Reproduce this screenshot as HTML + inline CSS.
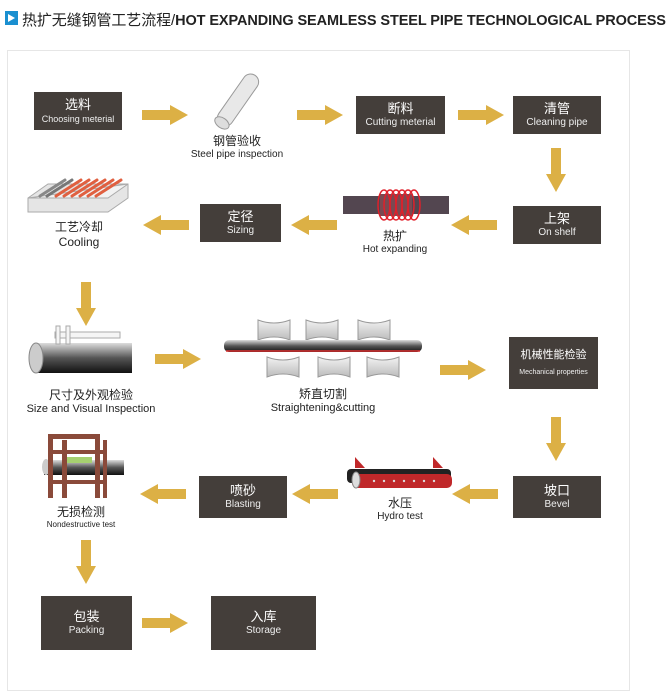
<!DOCTYPE html>
<html><head><meta charset="utf-8"><style>
*{margin:0;padding:0;box-sizing:border-box}
body{width:670px;height:700px;background:#fff;position:relative;overflow:hidden;font-family:"Liberation Sans","Noto Sans CJK SC",sans-serif;color:#222}
.box{position:absolute;background:#443e3a;color:#fff;text-align:center;display:flex;flex-direction:column;justify-content:center;align-items:center;line-height:1.25}
.box .c{font-size:13px}
.box .e{font-size:10px;color:#eee}
.lbl{position:absolute;text-align:center;line-height:1.25;transform:translateX(-50%);white-space:nowrap}
svg{position:absolute;left:0;top:0}
</style></head><body>
<div style="position:absolute;left:5px;top:11px;width:13px;height:14px;background:#1a8fd0"></div>
<div style="position:absolute;left:8px;top:14px;width:0;height:0;border-left:7px solid #fff;border-top:4px solid transparent;border-bottom:4px solid transparent"></div>
<div style="position:absolute;left:22px;top:9px;font-size:15px;white-space:nowrap;letter-spacing:-0.1px">热扩无缝钢管工艺流程/<b style="font-size:14.5px;letter-spacing:-0.1px">HOT EXPANDING SEAMLESS STEEL PIPE TECHNOLOGICAL PROCESS</b></div>
<div style="position:absolute;left:7px;top:50px;width:623px;height:641px;border:1px solid #e6e6e6"></div>

<svg width="670" height="700">
<defs>
<linearGradient id="pg" x1="0" y1="0" x2="0" y2="1"><stop offset="0" stop-color="#ddd"/><stop offset=".5" stop-color="#555"/><stop offset="1" stop-color="#111"/></linearGradient>
<linearGradient id="rg" x1="0" y1="0" x2="0" y2="1"><stop offset="0" stop-color="#f2f2f2"/><stop offset="1" stop-color="#bbb"/></linearGradient>
<g id="ar"><rect x="0" y="-5" width="30" height="10" fill="#dcb045"/><polygon points="28,-10 46,0 28,10" fill="#dcb045"/></g>
<g id="ad"><rect x="-5" y="0" width="10" height="28" fill="#dcb045"/><polygon points="-10,26 0,44 10,26" fill="#dcb045"/></g>
</defs>
<use href="#ar" x="142" y="115"/>
<use href="#ar" x="297" y="115"/>
<use href="#ar" x="458" y="115"/>
<use href="#ad" x="556" y="148"/>
<use href="#ar" transform="translate(497,225) scale(-1,1)"/>
<use href="#ar" transform="translate(337,225) scale(-1,1)"/>
<use href="#ar" transform="translate(189,225) scale(-1,1)"/>
<use href="#ad" x="86" y="282"/>
<use href="#ar" x="155" y="359"/>
<use href="#ar" x="440" y="370"/>
<use href="#ad" x="556" y="417"/>
<use href="#ar" transform="translate(498,494) scale(-1,1)"/>
<use href="#ar" transform="translate(338,494) scale(-1,1)"/>
<use href="#ar" transform="translate(186,494) scale(-1,1)"/>
<use href="#ad" x="86" y="540"/>
<use href="#ar" x="142" y="623"/>

<g transform="translate(238,100) rotate(-55)"><rect x="-30" y="-8" width="60" height="16" rx="8" fill="#e8e8e8" stroke="#999"/><ellipse cx="-28" cy="0" rx="5" ry="8" fill="#ddd" stroke="#999"/></g>
<rect x="343" y="196" width="106" height="18" fill="#534650"/>
<rect x="380" y="194" width="32" height="22" fill="#7a4a52"/>
<g fill="none" stroke="#e0202a" stroke-width="1.5">
<ellipse cx="384" cy="205" rx="6" ry="15"/><ellipse cx="390" cy="205" rx="6" ry="15"/><ellipse cx="396" cy="205" rx="6" ry="15"/><ellipse cx="402" cy="205" rx="6" ry="15"/><ellipse cx="408" cy="205" rx="6" ry="15"/><ellipse cx="414" cy="205" rx="6" ry="15"/></g>
<polygon points="28,198 48,184 128,184 128,198 108,212 28,212" fill="#e5e5e5" stroke="#aaa"/>
<polygon points="28,198 108,198 128,184" fill="#f2f2f2" stroke="#aaa"/>
<g stroke-width="3" stroke-linecap="round"><line x1="40" y1="196" x2="65" y2="180" stroke="#888"/><line x1="47" y1="196" x2="72" y2="180" stroke="#777"/><line x1="56" y1="196" x2="81" y2="180" stroke="#e06040"/><line x1="64" y1="196" x2="89" y2="180" stroke="#e06040"/><line x1="72" y1="196" x2="97" y2="180" stroke="#e06040"/><line x1="80" y1="196" x2="105" y2="180" stroke="#e06040"/><line x1="88" y1="196" x2="113" y2="180" stroke="#e06040"/><line x1="96" y1="196" x2="121" y2="180" stroke="#e06040"/></g>
<rect x="34" y="343" width="98" height="30" fill="url(#pg)"/>
<ellipse cx="36" cy="358" rx="7" ry="15" fill="#ccc" stroke="#888"/>
<g stroke="#aaa" fill="#f5f5f5"><rect x="55" y="332" width="65" height="6"/><rect x="56" y="326" width="4" height="18"/><rect x="66" y="326" width="4" height="18"/></g>
<g fill="url(#rg)" stroke="#999">
<path d="M258,320 q16,6 32,0 v20 q-16,-6 -32,0z"/><path d="M306,320 q16,6 32,0 v20 q-16,-6 -32,0z"/><path d="M358,320 q16,6 32,0 v20 q-16,-6 -32,0z"/>
<path d="M267,357 q16,6 32,0 v20 q-16,-6 -32,0z"/><path d="M318,357 q16,6 32,0 v20 q-16,-6 -32,0z"/><path d="M367,357 q16,6 32,0 v20 q-16,-6 -32,0z"/></g>
<rect x="224" y="340" width="198" height="12" rx="5" fill="url(#pg)"/>
<line x1="226" y1="351" x2="420" y2="351" stroke="#d33" stroke-width="1.5"/>
<polygon points="355,457 365,468 355,468" fill="#c0282a"/><polygon points="433,457 443,468 433,468" fill="#c0282a"/>
<rect x="347" y="469" width="104" height="14" rx="4" fill="#222"/>
<rect x="352" y="474" width="100" height="14" rx="5" fill="#c0282a"/>
<ellipse cx="356" cy="480" rx="4" ry="8" fill="#ddd" stroke="#888"/>
<g fill="#ddd"><circle cx="374" cy="481" r="1.2"/><circle cx="384" cy="481" r="1.2"/><circle cx="394" cy="481" r="1.2"/><circle cx="404" cy="481" r="1.2"/><circle cx="414" cy="481" r="1.2"/><circle cx="424" cy="481" r="1.2"/><circle cx="434" cy="481" r="1.2"/></g>
<rect x="44" y="460" width="80" height="15" fill="url(#pg)"/>
<ellipse cx="46" cy="467" rx="4" ry="8" fill="#ccc"/>
<rect x="62" y="457" width="30" height="6" fill="#a6d070"/>
<g fill="#8a4a3a"><rect x="48" y="434" width="5" height="64"/><rect x="62" y="440" width="5" height="58"/><rect x="95" y="434" width="5" height="64"/><rect x="103" y="440" width="4" height="58"/><rect x="48" y="434" width="52" height="5"/><rect x="48" y="450" width="59" height="4"/><rect x="48" y="480" width="59" height="4"/></g>
</svg>

<div class="box" style="left:34px;top:92px;width:88px;height:38px"><span class="c">选料</span><span class="e" style="font-size:9px">Choosing meterial</span></div>
<div class="lbl" style="left:237px;top:134px"><div style="font-size:12px">钢管验收</div><div style="font-size:10px">Steel pipe inspection</div></div>
<div class="box" style="left:356px;top:96px;width:89px;height:38px"><span class="c">断料</span><span class="e">Cutting meterial</span></div>
<div class="box" style="left:513px;top:96px;width:88px;height:38px"><span class="c">清管</span><span class="e">Cleaning pipe</span></div>
<div class="box" style="left:513px;top:206px;width:88px;height:38px"><span class="c">上架</span><span class="e">On shelf</span></div>
<div class="lbl" style="left:395px;top:229px"><div style="font-size:12px">热扩</div><div style="font-size:10px">Hot expanding</div></div>
<div class="box" style="left:200px;top:204px;width:81px;height:38px"><span class="c">定径</span><span class="e">Sizing</span></div>
<div class="lbl" style="left:79px;top:220px"><div style="font-size:12px">工艺冷却</div><div style="font-size:12px">Cooling</div></div>
<div class="lbl" style="left:91px;top:388px"><div style="font-size:12px">尺寸及外观检验</div><div style="font-size:11px">Size and Visual Inspection</div></div>
<div class="lbl" style="left:323px;top:387px"><div style="font-size:12px">矫直切割</div><div style="font-size:11px">Straightening&amp;cutting</div></div>
<div class="box" style="left:509px;top:337px;width:89px;height:52px"><span class="c" style="font-size:11px">机械性能检验</span><span class="e" style="font-size:7px;margin-top:6px">Mechanical properties</span></div>
<div class="box" style="left:513px;top:476px;width:88px;height:42px"><span class="c">坡口</span><span class="e">Bevel</span></div>
<div class="lbl" style="left:400px;top:496px"><div style="font-size:12px">水压</div><div style="font-size:10px">Hydro test</div></div>
<div class="box" style="left:199px;top:476px;width:88px;height:42px"><span class="c">喷砂</span><span class="e">Blasting</span></div>
<div class="lbl" style="left:81px;top:505px"><div style="font-size:12px">无损检测</div><div style="font-size:8px">Nondestructive test</div></div>
<div class="box" style="left:41px;top:596px;width:91px;height:54px"><span class="c">包装</span><span class="e">Packing</span></div>
<div class="box" style="left:211px;top:596px;width:105px;height:54px"><span class="c">入库</span><span class="e">Storage</span></div>
</body></html>
